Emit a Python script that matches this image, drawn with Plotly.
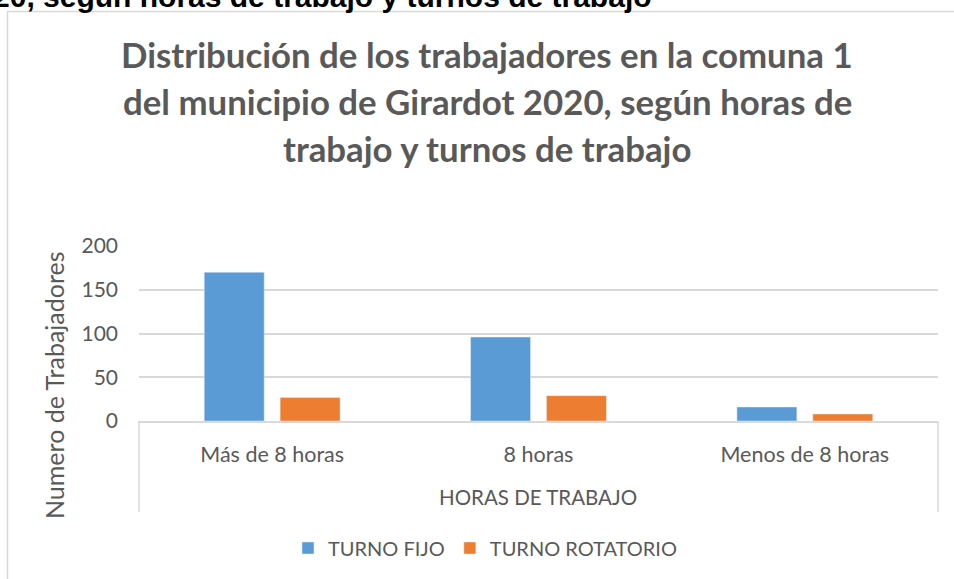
import plotly.graph_objects as go

categories = ["Más de 8 horas", "8 horas", "Menos de 8 horas"]
turno_fijo = [170, 96, 16]
turno_rotatorio = [27, 29, 8]
series_names = ["TURNO FIJO", "TURNO ROTATORIO"]
y_ticks = [0, 50, 100, 150, 200]

title_lines = [
    "Distribución de los trabajadores en la comuna 1",
    "del municipio de Girardot 2020, según horas de",
    "trabajo y turnos de trabajo",
]
cropped_caption = "Girardot 2020, según horas de trabajo y turnos de trabajo"
x_axis_title = "HORAS DE TRABAJO"
y_axis_title = "Numero de Trabajadores"

W, H = 954, 579
L, R, T, B = 139, 938, 246, 421  # plot area in pixels


def px(x):
    return (x - L) / (R - L)


def py(y):
    return (B - y) / (B - T)


GRAY = "#595959"
GRID = "#d9d9d9"
FONT = "Lato"

fig = go.Figure()
fig.add_trace(go.Bar(x=categories, y=turno_fijo, name=series_names[0],
                     marker=dict(color="#5B9BD5")))
fig.add_trace(go.Bar(x=categories, y=turno_rotatorio, name=series_names[1],
                     marker=dict(color="#ED7D31")))

annotations = []
title_centers = [54, 101, 148]
for line, yc in zip(title_lines, title_centers):
    annotations.append(dict(text="<b>" + line + "</b>", xref="paper", yref="paper",
                            x=px(487), y=py(yc), xanchor="center", yanchor="middle",
                            showarrow=False, font=dict(family=FONT, size=34.8, color=GRAY)))
annotations.append(dict(text="<b>" + cropped_caption + "</b>", xref="paper", yref="paper",
                        x=px(654), y=py(-3), xanchor="right", yanchor="middle",
                        showarrow=False,
                        font=dict(family="Liberation Sans", size=30, color="#000000")))
annotations.append(dict(text=x_axis_title, xref="paper", yref="paper",
                        x=px(538), y=py(497), xanchor="center", yanchor="middle",
                        showarrow=False, font=dict(family=FONT, size=20.5, color=GRAY)))
annotations.append(dict(text=y_axis_title, xref="paper", yref="paper",
                        x=px(54), y=py(385), xanchor="center", yanchor="middle",
                        textangle=-90, showarrow=False,
                        font=dict(family=FONT, size=25, color=GRAY)))

shapes = [
    # chart outer border
    dict(type="rect", xref="paper", yref="paper", x0=px(7.5), x1=px(1100),
         y0=py(900), y1=py(11.5), line=dict(color=GRID, width=1.5), layer="below"),
    # multi-level category axis box sides
    dict(type="line", xref="paper", yref="paper", x0=0, x1=0, y0=0, y1=py(512),
         line=dict(color=GRID, width=1.5)),
    dict(type="line", xref="paper", yref="paper", x0=1, x1=1, y0=0, y1=py(512),
         line=dict(color=GRID, width=1.5)),
]

fig.update_layout(
    width=W, height=H,
    margin=dict(l=L, r=W - R, t=T, b=H - B, autoexpand=False),
    paper_bgcolor="white", plot_bgcolor="white",
    barmode="group", bargap=0.43, bargroupgap=0.21,
    font=dict(family=FONT, size=21, color=GRAY),
    showlegend=True,
    legend=dict(orientation="h", x=px(485), y=py(548), xanchor="center", yanchor="middle",
                font=dict(family=FONT, size=20, color=GRAY), itemwidth=30,
                bgcolor="rgba(0,0,0,0)"),
    annotations=annotations,
    shapes=shapes,
)
fig.update_xaxes(showline=True, linecolor=GRID, linewidth=1.5, showgrid=False,
                 ticks="", ticklabelstandoff=13,
                 tickfont=dict(family=FONT, size=21.5, color=GRAY))
fig.update_yaxes(range=[0, 200], tickvals=y_ticks, showgrid=True, gridcolor=GRID,
                 gridwidth=1.5, zeroline=False, showline=False, ticks="",
                 ticklabelstandoff=20, tickfont=dict(family=FONT, size=21, color=GRAY))

fig.write_html("out.html", config={"displayModeBar": False},
               post_script="document.body.style.margin='0';")
